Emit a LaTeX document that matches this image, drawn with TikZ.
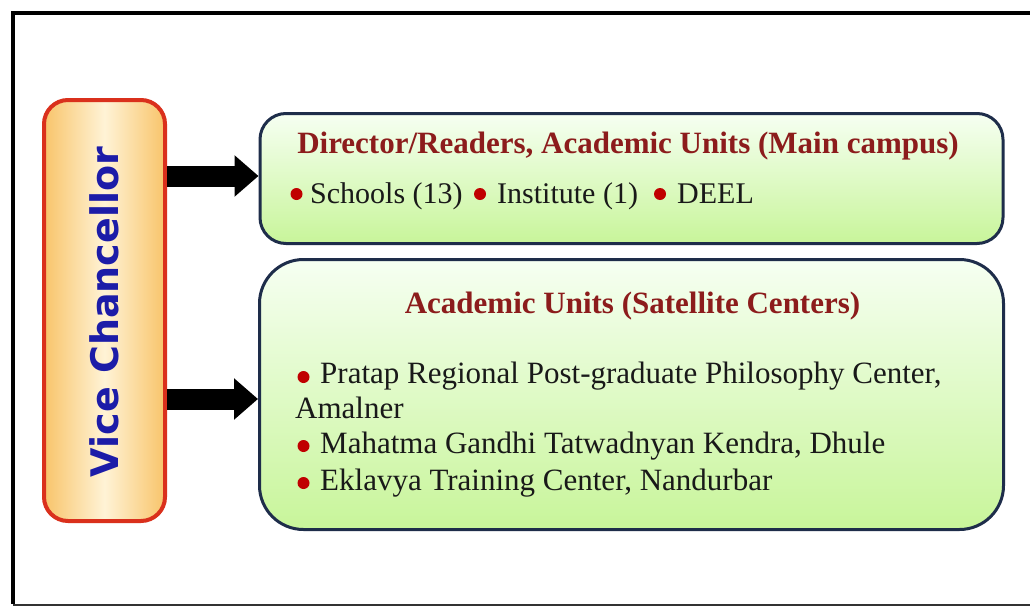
\documentclass[tikz,border=0pt]{standalone}
\usepackage{fontspec}
\setmainfont{Liberation Serif}
\newfontfamily\vcfont{DejaVu Sans}
\usetikzlibrary{arrows.meta}
\definecolor{titlered}{RGB}{140,28,28}
\definecolor{bulred}{RGB}{192,0,0}
\definecolor{bodytext}{RGB}{25,25,25}
\definecolor{vcblue}{RGB}{28,28,168}
\definecolor{vcborder}{RGB}{218,48,28}
\definecolor{vcorange}{RGB}{248,196,106}
\definecolor{vclight}{RGB}{255,243,214}
\definecolor{gtop}{RGB}{246,255,242}
\definecolor{gbottom}{RGB}{200,245,154}
\definecolor{navy}{RGB}{30,45,74}
\tikzset{
  vcbox/.style={rectangle, rounded corners=24pt, draw=vcborder, line width=4pt,
    left color=vcorange, right color=vcorange, middle color=vclight,
    minimum width=121pt, minimum height=421pt, inner sep=0pt},
  unitbox/.style={rectangle, draw=navy, line width=3pt,
    top color=gtop, bottom color=gbottom, inner sep=0pt},
  titletext/.style={inner sep=0pt, anchor=base, text=titlered, font=\bfseries\fontsize{31pt}{36pt}\selectfont},
  bodyline/.style={inner sep=0pt, anchor=base west, text=bodytext, font=\fontsize{31pt}{36pt}\selectfont},
  topline/.style={inner sep=0pt, anchor=base west, text=bodytext, font=\fontsize{30pt}{36pt}\selectfont},
  bulletdot/.style={circle, fill=bulred, inner sep=0pt, minimum size=12pt},
  blockarrow/.style={line width=21pt, -{Triangle[length=24pt, width=40pt]}, draw=black}
}
\begin{document}
\begin{tikzpicture}[x=1pt, y=-1pt]
\useasboundingbox (0,0) rectangle (1030,608);
\fill[white] (0,0) rectangle (1030,608);
% frame
\draw[line width=4.5pt] (1030,13) -- (13,13) -- (13,604);
\draw[line width=2pt, black!80] (13,604.5) -- (1030,604.5);

% boxes
\node[vcbox] (vc) at (104.5,310.5) {};
\node[unitbox, rounded corners=26pt, minimum width=743pt, minimum height=130pt] (main) at (631.5,178.5) {};
\node[unitbox, rounded corners=44pt, minimum width=744pt, minimum height=270pt] (sat) at (631.5,394.5) {};

% VC text
\node[inner sep=0pt, rotate=90, anchor=base, text=vcblue, font=\vcfont\bfseries\fontsize{38pt}{40pt}\selectfont] (vctext) at (118,312) {Vice Chancellor};

% arrows
\draw[blockarrow] ([yshift=2.5pt]vc.east |- main.west) -- ([yshift=2.5pt]main.west);
\draw[blockarrow] ([yshift=-4.5pt]vc.east |- sat.west) -- ([yshift=-4.5pt]sat.west);

% main campus box text
\node[titletext] (t1) at (628,153) {Director/Readers, Academic Units (Main campus)};
\node[bulletdot] (b1) at (296.5,194) {};
\node[topline] (s1) at (310,203) {Schools (13)};
\node[bulletdot] (b2) at (480,194) {};
\node[topline] (s2) at (497,203) {Institute (1)};
\node[bulletdot] (b3) at (660,194) {};
\node[topline] (s3) at (677,203) {DEEL};

% satellite box text
\node[titletext] (t2) at (632.5,313) {Academic Units (Satellite Centers)};
\node[bulletdot] (c1) at (303.5,377) {};
\node[bodyline] (l1) at (320,383) {Pratap Regional Post-graduate Philosophy Center,};
\node[bodyline] (l2) at (295,418) {Amalner};
\node[bulletdot] (c2) at (303.5,446) {};
\node[bodyline] (l3) at (320,453) {Mahatma Gandhi Tatwadnyan Kendra, Dhule};
\node[bulletdot] (c3) at (303.5,483) {};
\node[bodyline] (l4) at (320,490) {Eklavya Training Center, Nandurbar};
\end{tikzpicture}
\end{document}
